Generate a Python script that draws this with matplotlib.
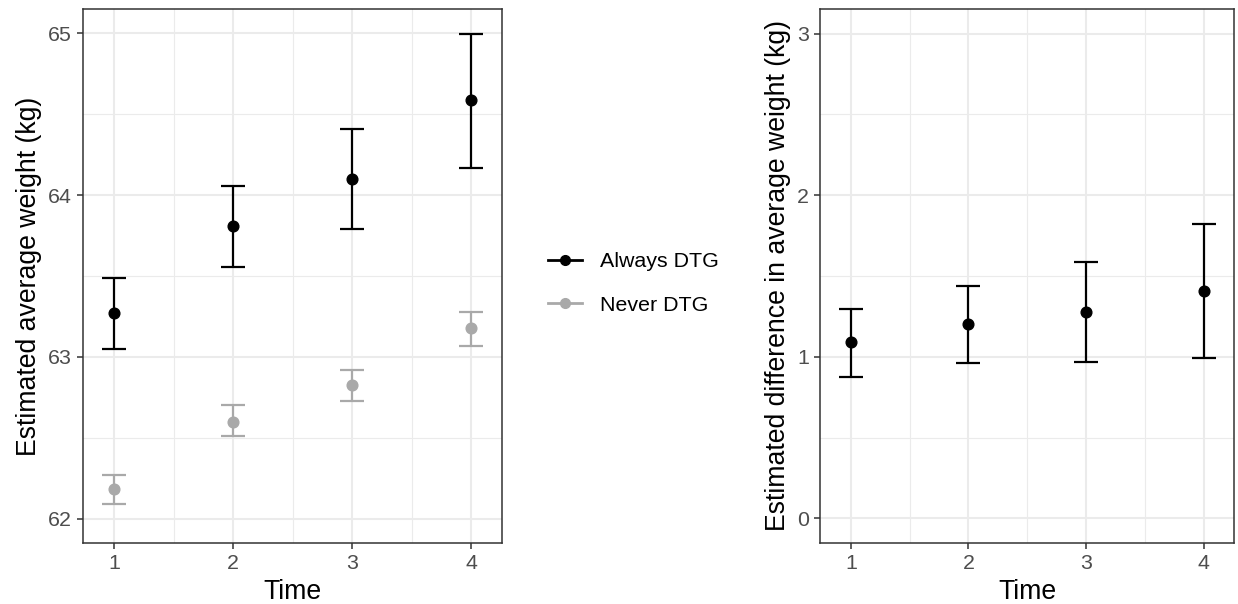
import matplotlib
matplotlib.use("Agg")
import matplotlib.pyplot as plt
from matplotlib.lines import Line2D
import numpy as np

plt.rcParams['font.family'] = ['Liberation Sans', 'DejaVu Sans']

time = [1, 2, 3, 4]
always_est = [63.27, 63.81, 64.10, 64.59]
always_lo = [63.05, 63.555, 63.79, 64.17]
always_hi = [63.49, 64.055, 64.41, 64.995]
never_est = [62.18, 62.60, 62.825, 63.18]
never_lo = [62.09, 62.51, 62.73, 63.07]
never_hi = [62.27, 62.70, 62.92, 63.28]
diff_est = [1.09, 1.20, 1.275, 1.41]
diff_lo = [0.876, 0.96, 0.967, 0.993]
diff_hi = [1.297, 1.44, 1.586, 1.825]
series_labels = ["Always DTG", "Never DTG"]
colors = ["#000000", "#A9A9A9"]

TICK_FS = 15.4
TITLE_FS = 19.2

fig = plt.figure(figsize=(12.38, 6.04), dpi=100)
ax1 = fig.add_axes([0.06729, 0.1018, 0.33845, 0.8825])
ax2 = fig.add_axes([0.6626, 0.1018, 0.3344, 0.8825])

def style(ax, ylim, yticks, yminor):
    ax.set_xlim(0.74, 4.26)
    ax.set_ylim(*ylim)
    ax.set_xticks(time)
    ax.set_yticks(yticks)
    ax.set_xticks([1.5, 2.5, 3.5], minor=True)
    ax.set_yticks(yminor, minor=True)
    ax.grid(True, which='major', color='#EBEBEB', linewidth=1.5, zorder=0)
    ax.grid(True, which='minor', color='#EBEBEB', linewidth=0.8, zorder=0)
    ax.set_axisbelow(True)
    for s in ax.spines.values():
        s.set_color('#333333')
        s.set_linewidth(1.1)
    ax.tick_params(which='major', length=4.3, width=1.1, color='#333333',
                   labelsize=TICK_FS, labelcolor='#4D4D4D', pad=4)
    ax.tick_params(which='minor', length=0)
    ax.set_xlabel("Time", fontsize=TITLE_FS, labelpad=4)

def draw(ax, est, lo, hi, color):
    est = np.array(est); lo = np.array(lo); hi = np.array(hi)
    ax.errorbar(time, est, yerr=[est - lo, hi - est], fmt='o', color=color,
                ecolor=color, elinewidth=1.6, capsize=8.6, capthick=1.6,
                markersize=7.7, zorder=3)

style(ax1, (61.852, 65.148), [62, 63, 64, 65], [62.5, 63.5, 64.5])
draw(ax1, always_est, always_lo, always_hi, colors[0])
draw(ax1, never_est, never_lo, never_hi, colors[1])
ax1.set_ylabel("Estimated average weight (kg)", fontsize=TITLE_FS, labelpad=4)

style(ax2, (-0.15, 3.15), [0, 1, 2, 3], [0.5, 1.5, 2.5])
draw(ax2, diff_est, diff_lo, diff_hi, colors[0])
ax2.set_ylabel("Estimated difference in average weight (kg)", fontsize=TITLE_FS, labelpad=4)

handles = [Line2D([0], [0], color=c, marker='o', markersize=7, linewidth=2.0)
           for c in colors]
fig.legend(handles, series_labels, loc='center left',
           bbox_to_anchor=(0.4426, 0.5306), frameon=False, fontsize=TICK_FS,
           handlelength=1.58, handletextpad=0.84, labelspacing=1.13,
           borderpad=0, borderaxespad=0)

fig.savefig("out.png", dpi=100)
